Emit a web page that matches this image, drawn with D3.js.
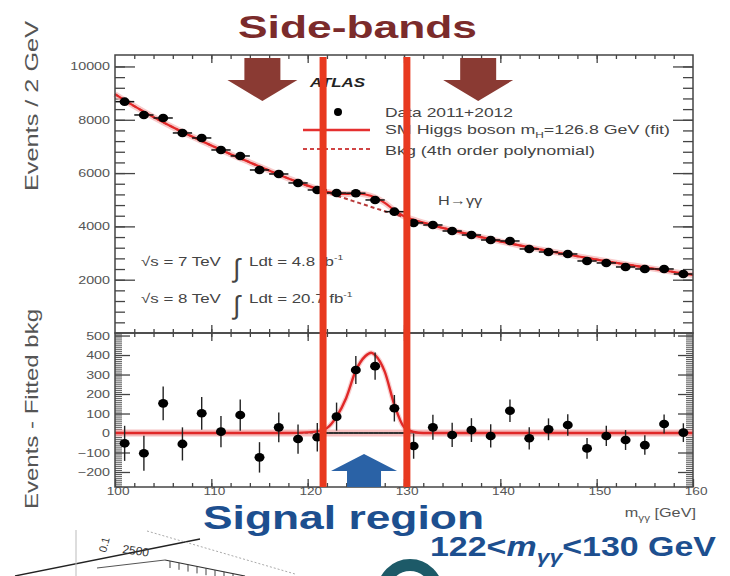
<!DOCTYPE html>
<html><head><meta charset="utf-8">
<script src="https://cdn.jsdelivr.net/npm/d3@7"></script>
<style>body{margin:0;background:#fff;} svg{display:block;font-family:"Liberation Sans",Arial,sans-serif;}</style>
</head><body><svg id="c" width="730" height="576"></svg>
<script>
// ---------------- data ----------------
const massBins = [101,103,105,107,109,111,113,115,117,119,121,123,125,127,129,131,133,135,137,139,141,143,145,147,149,151,153,155,157,159];
const events   = [8679,8180,8067,7505,7317,6867,6642,6116,5966,5629,5366,5253,5245,4991,4552,4128,4052,3827,3677,3490,3452,3152,3039,2964,2702,2627,2477,2402,2402,2214];
const residuals= [-53,-104,152,-56,101,7,92,-125,29,-31,-22,84,323,343,127,-67,29,-10,15,-15,114,-27,19,41,-79,-15,-36,-62,46,2];
const errors   = [90,90,86,85,84,80,80,78,76,75,73,72,72,70,68,65,64,62,61,60,58,57,56,55,53,52,51,50,49,48];

const bkgMass  = [100,102,104,106,108,110,112,114,116,118,120,122,124,126,128,130,132,134,136,138,140,142,144,146,148,150,152,154,156,158,160];
const bkgFit   = [8960,8510,8100,7720,7370,7035,6710,6400,6095,5800,5525,5270,5035,4800,4570,4350,4140,3945,3765,3595,3435,3285,3145,3010,2880,2755,2635,2520,2405,2290,2175];

const fitMass  = [100,102,104,106,108,110,112,114,116,118,120,121,122,123,124,125,126,127,128,129,130,131,132,134,136,138,140,142,144,146,148,150,152,154,156,158,160];
const fitTotal = [8960,8510,8100,7720,7370,7035,6710,6400,6095,5800,5528,5405,5295,5236,5215,5238,5195,5085,4885,4605,4380,4250,4140,3945,3765,3595,3435,3285,3145,3010,2880,2755,2635,2520,2405,2290,2175];

const sigMass  = [100,110,118,120,121,122,123,124,125,126,126.6,127,128,129,130,131,132,134,150,160];
const sigVals  = [0,0,0,3,8,25,84,180,320,395,412,400,315,145,30,5,0,0,0,0];

const topTicks = [2000,4000,6000,8000,10000];
const botTicks = [-200,-100,0,100,200,300,400,500];
const xTicks   = [100,110,120,130,140,150,160];
const signalEdges = [121.6,130.3];
const sideBandArrows = [115.3,137.7];
const signalArrow = 125.85;

// ---------------- layout ----------------
const SX = 1.3;
const svg = d3.select("#c");
const x = d3.scaleLinear([100,160],[115,693]);
const yT = d3.scaleLinear([0,10430],[333,55]);
const yB = d3.scaleLinear([-277,513],[487,333]);
const frameCol = "#444", lblCol = "#555";

function stext(g,xp,yp,str,o={}){
  const t=g.append("text").attr("transform",`translate(${xp},${yp}) scale(${o.sx||SX},1)`)
    .attr("font-size",o.size||13).attr("fill",o.fill||"#444")
    .attr("text-anchor",o.anchor||"start").attr("font-weight",o.weight||"normal")
    .attr("font-style",o.style||"normal").text(str);
  return t;
}
function fixAxisText(g){
  g.selectAll(".tick text").each(function(){
    const t=d3.select(this); const xv=+(t.attr("x")||0);
    t.attr("x",xv/SX).attr("transform",`scale(${SX},1)`);
  });
}
function styleAxis(g){
  g.select(".domain").remove();
  g.selectAll(".tick line").attr("stroke",frameCol).attr("stroke-width",1.3);
  g.selectAll(".tick text").attr("fill",lblCol).attr("font-size",11).attr("font-family","Liberation Sans, Arial, sans-serif");
}

// ---------------- top panel axes ----------------
const gT = svg.append("g");
let a;
a = gT.append("g").attr("transform",`translate(${x(100)},0)`)
  .call(d3.axisLeft(yT).tickValues(topTicks).tickSizeInner(-20).tickSizeOuter(0).tickPadding(5).tickFormat(d3.format("d")));
styleAxis(a); fixAxisText(a);
a = gT.append("g").attr("transform",`translate(${x(100)},0)`)
  .call(d3.axisLeft(yT).tickValues(d3.range(400,10400,400)).tickSizeInner(-10).tickSizeOuter(0).tickFormat(""));
styleAxis(a);
a = gT.append("g").attr("transform",`translate(${x(160)},0)`)
  .call(d3.axisRight(yT).tickValues(topTicks).tickSizeInner(-20).tickSizeOuter(0).tickFormat(""));
styleAxis(a);
a = gT.append("g").attr("transform",`translate(${x(160)},0)`)
  .call(d3.axisRight(yT).tickValues(d3.range(400,10400,400)).tickSizeInner(-10).tickSizeOuter(0).tickFormat(""));
styleAxis(a);
[[55,-1],[333,1]].forEach(([yy,dir])=>{
  const ax = dir<0 ? d3.axisTop(x) : d3.axisBottom(x);
  a = gT.append("g").attr("transform",`translate(0,${yy})`)
    .call(ax.tickValues(xTicks.slice(1,-1)).tickSizeInner(-8).tickSizeOuter(0).tickFormat(""));
  styleAxis(a);
  a = gT.append("g").attr("transform",`translate(0,${yy})`)
    .call(ax.tickValues(d3.range(102,160,2)).tickSizeInner(-4).tickSizeOuter(0).tickFormat(""));
  styleAxis(a);
});

// ---------------- lower panel axes ----------------
const gB = svg.append("g");
a = gB.append("g").attr("transform",`translate(${x(100)},0)`)
  .call(d3.axisLeft(yB).tickValues(botTicks).tickSizeInner(-15).tickSizeOuter(0).tickPadding(5).tickFormat(d3.format("d")));
styleAxis(a); fixAxisText(a);
a = gB.append("g").attr("transform",`translate(${x(100)},0)`)
  .call(d3.axisLeft(yB).tickValues(d3.range(-270,511,10)).tickSizeInner(-7).tickSizeOuter(0).tickFormat(""));
styleAxis(a); a.selectAll(".tick line").attr("stroke-width",0.9);
a = gB.append("g").attr("transform",`translate(${x(160)},0)`)
  .call(d3.axisRight(yB).tickValues(botTicks).tickSizeInner(-15).tickSizeOuter(0).tickFormat(""));
styleAxis(a);
a = gB.append("g").attr("transform",`translate(${x(160)},0)`)
  .call(d3.axisRight(yB).tickValues(d3.range(-270,511,10)).tickSizeInner(-7).tickSizeOuter(0).tickFormat(""));
styleAxis(a); a.selectAll(".tick line").attr("stroke-width",0.9);
a = gB.append("g").attr("transform",`translate(0,333)`)
  .call(d3.axisTop(x).tickValues(xTicks.slice(1,-1)).tickSizeInner(-8).tickSizeOuter(0).tickFormat(""));
styleAxis(a);
a = gB.append("g").attr("transform",`translate(0,333)`)
  .call(d3.axisTop(x).tickValues(d3.range(102,160,2)).tickSizeInner(-4).tickSizeOuter(0).tickFormat(""));
styleAxis(a);
a = gB.append("g").attr("transform",`translate(0,487)`)
  .call(d3.axisBottom(x).tickValues(xTicks).tickSizeInner(-8).tickSizeOuter(0).tickPadding(1).tickFormat(d3.format("d")));
styleAxis(a); fixAxisText(a); a.selectAll(".tick text").attr("dx",2).attr("font-size",10.5);
a = gB.append("g").attr("transform",`translate(0,487)`)
  .call(d3.axisBottom(x).tickValues(d3.range(102,160,2)).tickSizeInner(-4).tickSizeOuter(0).tickFormat(""));
styleAxis(a);

// frames
svg.append("rect").attr("x",x(100)).attr("y",55).attr("width",x(160)-x(100)).attr("height",333-55)
  .attr("fill","none").attr("stroke",frameCol).attr("stroke-width",1.5);
svg.append("rect").attr("x",x(100)).attr("y",333).attr("width",x(160)-x(100)).attr("height",487-333)
  .attr("fill","none").attr("stroke",frameCol).attr("stroke-width",1.5);

// ---------------- top panel curves & data ----------------
const lineBkg = d3.line().x((d,i)=>x(bkgMass[i])).y(d=>yT(d)).curve(d3.curveMonotoneX);
const lineFit = d3.line().x((d,i)=>x(fitMass[i])).y(d=>yT(d)).curve(d3.curveMonotoneX);
gT.append("path").attr("d",lineFit(fitTotal)).attr("fill","none").attr("stroke","#f4b4b4").attr("stroke-width",6).attr("opacity",0.7);
gT.append("path").attr("d",lineBkg(bkgFit)).attr("fill","none").attr("stroke","#b83a3a").attr("stroke-width",2).attr("stroke-dasharray","4,3");
gT.append("path").attr("d",lineFit(fitTotal)).attr("fill","none").attr("stroke","#e32828").attr("stroke-width",2.2);

const ptsT = gT.append("g");
massBins.forEach((m,i)=>{
  ptsT.append("line").attr("x1",x(m-1)).attr("x2",x(m+1)).attr("y1",yT(events[i])).attr("y2",yT(events[i])).attr("stroke","#111").attr("stroke-width",1.5);
  ptsT.append("line").attr("x1",x(m)).attr("x2",x(m)).attr("y1",yT(events[i]-errors[i])).attr("y2",yT(events[i]+errors[i])).attr("stroke","#111").attr("stroke-width",1.5);
  ptsT.append("ellipse").attr("cx",x(m)).attr("cy",yT(events[i])).attr("rx",5).attr("ry",4.3).attr("fill","#000");
});

// ---------------- lower panel curves & data ----------------
gB.append("line").attr("x1",x(100)).attr("x2",x(160)).attr("y1",yB(0)).attr("y2",yB(0)).attr("stroke","#f3a8a8").attr("stroke-width",7).attr("opacity",0.7);
gB.append("line").attr("x1",x(100)).attr("x2",x(160)).attr("y1",yB(0)).attr("y2",yB(0)).attr("stroke","#333").attr("stroke-width",2.2).attr("stroke-dasharray","3,2");
const lineSig = d3.line().x((d,i)=>x(sigMass[i])).y(d=>yB(d)).curve(d3.curveMonotoneX);
gB.append("path").attr("d",lineSig(sigVals)).attr("fill","none").attr("stroke","#f4b0b0").attr("stroke-width",5).attr("opacity",0.6);
gB.append("path").attr("d",lineSig(sigVals)).attr("fill","none").attr("stroke","#e02828").attr("stroke-width",2.4);
gB.append("line").attr("x1",x(signalEdges[0])).attr("x2",x(signalEdges[1])).attr("y1",yB(0)).attr("y2",yB(0)).attr("stroke","#333").attr("stroke-width",2.2).attr("stroke-dasharray","3,2");

const ptsB = gB.append("g");
massBins.forEach((m,i)=>{
  ptsB.append("line").attr("x1",x(m)).attr("x2",x(m)).attr("y1",yB(residuals[i]-errors[i])).attr("y2",yB(residuals[i]+errors[i])).attr("stroke","#222").attr("stroke-width",1.4);
  ptsB.append("ellipse").attr("cx",x(m)).attr("cy",yB(residuals[i])).attr("rx",5).attr("ry",4.3).attr("fill","#000");
});

// ---------------- annotations ----------------
stext(svg,310,87,"ATLAS",{size:13,weight:"bold",style:"italic",fill:"#222"});
svg.append("circle").attr("cx",338).attr("cy",112).attr("r",4).attr("fill","#000");
svg.append("text").attr("x",385).attr("y",117).attr("font-size",13.5).attr("fill","#444")
  .attr("textLength",128).attr("lengthAdjust","spacingAndGlyphs").text("Data 2011+2012");
svg.append("line").attr("x1",303).attr("x2",370).attr("y1",130).attr("y2",130).attr("stroke","#e53030").attr("stroke-width",2.5);
const lt = svg.append("text").attr("x",385).attr("y",134).attr("font-size",13.5).attr("fill","#444")
  .attr("textLength",285).attr("lengthAdjust","spacingAndGlyphs");
lt.append("tspan").text("SM Higgs boson m");
lt.append("tspan").attr("font-size",9).attr("dy",4).text("H");
lt.append("tspan").attr("dy",-4).text("=126.8 GeV (fit)");
svg.append("line").attr("x1",303).attr("x2",370).attr("y1",149).attr("y2",149).attr("stroke","#d04545").attr("stroke-width",2).attr("stroke-dasharray","4,3");
svg.append("text").attr("x",385).attr("y",155).attr("font-size",13.5).attr("fill","#444")
  .attr("textLength",210).attr("lengthAdjust","spacingAndGlyphs").text("Bkg (4th order polynomial)");
stext(svg,438,205,"H\u2192\u03b3\u03b3",{size:12.5});
stext(svg,141,266,"\u221as = 7 TeV",{size:13});
stext(svg,233,277,"\u222b",{size:26,sx:1});
let l1 = stext(svg,249,266,"Ldt = 4.8 fb",{size:13});
l1.append("tspan").attr("font-size",8).attr("dy",-6).text("-1");
stext(svg,141,303,"\u221as = 8 TeV",{size:13});
stext(svg,233,314,"\u222b",{size:26,sx:1});
let l2 = stext(svg,249,303,"Ldt = 20.7 fb",{size:13});
l2.append("tspan").attr("font-size",8).attr("dy",-6).text("-1");

svg.append("text").attr("transform","translate(38,106) rotate(-90)").attr("text-anchor","middle")
  .attr("font-size",19).attr("fill","#555").attr("textLength",170).attr("lengthAdjust","spacingAndGlyphs").text("Events / 2 GeV");
svg.append("text").attr("transform","translate(38,409) rotate(-90)").attr("text-anchor","middle")
  .attr("font-size",19).attr("fill","#555").attr("textLength",200).attr("lengthAdjust","spacingAndGlyphs").text("Events - Fitted bkg");
const xt = stext(svg,696,517,"",{size:12.5,anchor:"end",fill:"#555"});
xt.append("tspan").text("m");
xt.append("tspan").attr("font-size",9).attr("dy",4).text("\u03b3\u03b3");
xt.append("tspan").attr("dy",-4).text(" [GeV]");

function downArrow(cx){
  const p = d3.path();
  p.moveTo(cx-18,58); p.lineTo(cx+18,58); p.lineTo(cx+18,80); p.lineTo(cx+35,80);
  p.lineTo(cx,101); p.lineTo(cx-35,80); p.lineTo(cx-18,80); p.closePath();
  svg.append("path").attr("d",p.toString()).attr("fill","#8a3a33");
}
sideBandArrows.forEach(m=>downArrow(x(m)));
(function(){
  const cx = x(signalArrow); const p = d3.path();
  p.moveTo(cx,454); p.lineTo(cx+33,471); p.lineTo(cx+17,471); p.lineTo(cx+17,487);
  p.lineTo(cx-17,487); p.lineTo(cx-17,471); p.lineTo(cx-33,471); p.closePath();
  svg.append("path").attr("d",p.toString()).attr("fill","#2a62a6");
})();

signalEdges.forEach(m=>{
  svg.append("line").attr("x1",x(m)).attr("x2",x(m)).attr("y1",57).attr("y2",487)
    .attr("stroke","#e8391f").attr("stroke-width",7);
});

svg.append("text").attr("x",238).attr("y",38).attr("font-size",32).attr("font-weight","bold").attr("fill","#7b2b2b")
  .attr("textLength",239).attr("lengthAdjust","spacingAndGlyphs").text("Side-bands");
svg.append("text").attr("x",203).attr("y",529).attr("font-size",34).attr("font-weight","bold").attr("fill","#1d4f8f")
  .attr("textLength",281).attr("lengthAdjust","spacingAndGlyphs").text("Signal region");
const sr = svg.append("text").attr("x",430).attr("y",556).attr("font-size",28).attr("font-weight","bold").attr("fill","#1d4f8f")
  .attr("textLength",286).attr("lengthAdjust","spacingAndGlyphs");
sr.append("tspan").text("122<");
sr.append("tspan").attr("font-style","italic").text("m");
sr.append("tspan").attr("font-size",19).attr("font-style","italic").attr("dy",7).text("\u03b3\u03b3");
sr.append("tspan").attr("dy",-7).text("<130 GeV");

const deco = svg.append("g").attr("fill","none");
deco.append("line").attr("x1",15).attr("y1",576).attr("x2",200).attr("y2",539).attr("stroke","#222").attr("stroke-width",1.3);
deco.append("line").attr("x1",76).attr("y1",530).attr("x2",76).attr("y2",576).attr("stroke","#bbb").attr("stroke-width",1);
deco.append("line").attr("x1",147).attr("y1",531).attr("x2",295).attr("y2",574).attr("stroke","#aaa").attr("stroke-width",1).attr("stroke-dasharray","2,2");
deco.append("line").attr("x1",165).attr("y1",560).attr("x2",245).attr("y2",576).attr("stroke","#333").attr("stroke-width",1.2);
deco.append("line").attr("x1",97).attr("y1",568).attr("x2",165).attr("y2",560).attr("stroke","#555").attr("stroke-width",1);
d3.range(0,8).forEach(i=>{
  const px=170+i*9, py=561+i*1.8;
  deco.append("line").attr("x1",px).attr("y1",py).attr("x2",px).attr("y2",py+7).attr("stroke","#444").attr("stroke-width",1);
});
svg.append("text").attr("transform","translate(106,553) rotate(-75)").attr("font-size",11).attr("fill","#333").text("0.1");
svg.append("text").attr("transform","translate(122,553) rotate(8)").attr("font-size",12).attr("fill","#333").text("2500");
svg.append("circle").attr("cx",410).attr("cy",592).attr("r",27).attr("fill","none").attr("stroke","#1d5a68").attr("stroke-width",12);
</script></body></html>
